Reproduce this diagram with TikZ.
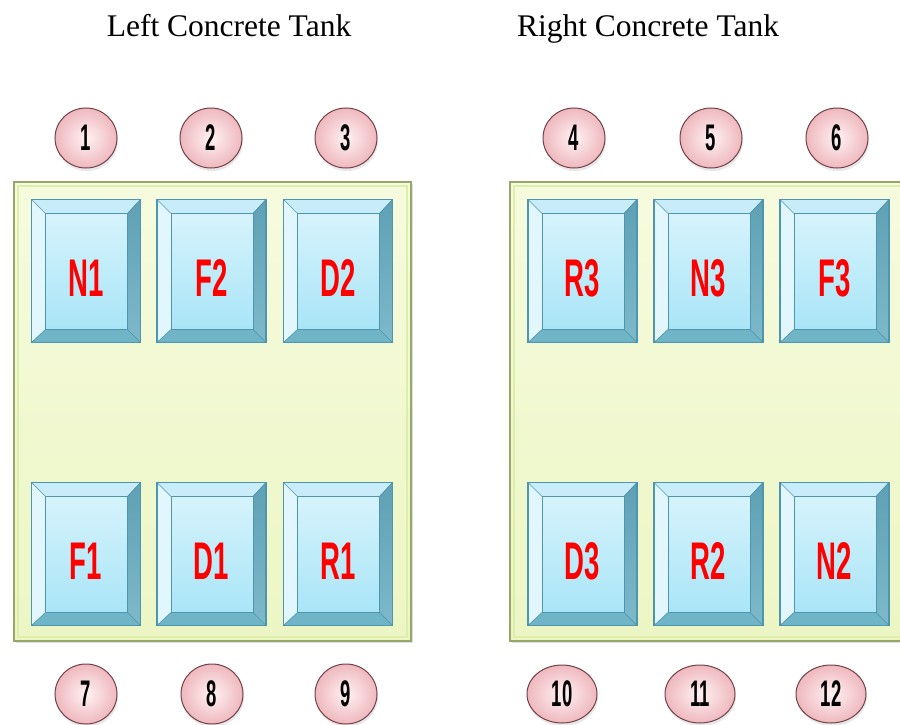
\documentclass[tikz,border=0pt]{standalone}
\usepackage{fontspec}
\setmainfont{Liberation Serif}
\newfontfamily\condfont[FakeStretch=0.52]{Liberation Sans Bold}
\newfontfamily\numfont[FakeStretch=0.5]{Liberation Sans Bold}
\usetikzlibrary{shapes.geometric,shadows,calc}
\definecolor{facetop}{RGB}{214,243,252}
\definecolor{facebot}{RGB}{169,229,247}
\definecolor{bevtopc}{RGB}{200,236,249}
\definecolor{bevleftc}{RGB}{226,247,253}
\definecolor{bevrightc}{RGB}{95,160,180}
\definecolor{bevrightd}{RGB}{125,185,202}
\definecolor{bevbotc}{RGB}{112,180,200}
\definecolor{boxline}{RGB}{78,150,175}
\definecolor{tankfill}{RGB}{236,246,196}
\definecolor{tanktop}{RGB}{246,251,222}
\definecolor{tankline}{RGB}{150,168,105}
\definecolor{tankrim}{RGB}{222,238,168}
\definecolor{ballin}{RGB}{255,242,243}
\definecolor{ballout}{RGB}{238,184,190}
\definecolor{ballline}{RGB}{115,65,72}
\definecolor{lblred}{RGB}{255,0,0}
\tikzset{
  boxnode/.style={rectangle, minimum width=109pt, minimum height=143pt, inner sep=0pt, outer sep=0pt},
  tank/.style={rectangle, inner sep=0pt, outer sep=0pt, draw=tankline, line width=1.3pt,
    top color=tanktop, bottom color=tankfill,
    drop shadow={opacity=0.25, shadow xshift=2pt, shadow yshift=-2pt}},
  lbl/.style={font=\condfont\fontsize{53}{53}\selectfont, text=lblred},
  ballnode/.style={ellipse, minimum width=62pt, minimum height=60pt, inner sep=0pt,
    draw=ballline, line width=1pt, inner color=ballin, outer color=ballout,
    drop shadow={opacity=0.18, shadow xshift=1pt, shadow yshift=-3pt},
    font=\numfont\fontsize{37}{37}\selectfont},
  wideball/.style={ballnode, minimum width=70pt, minimum height=58pt},
  title/.style={font=\fontsize{31.5}{32}\selectfont, anchor=base}
}
\newcommand{\bevbox}[4]{%
  \node[boxnode] (#1) at (#2,#3) {};
  \coordinate (#1a) at ([shift={(14,14)}]#1.north west);
  \coordinate (#1b) at ([shift={(-13,14)}]#1.north east);
  \coordinate (#1c) at ([shift={(-13,-13)}]#1.south east);
  \coordinate (#1d) at ([shift={(14,-13)}]#1.south west);
  \fill[top color=facetop, bottom color=facebot] (#1a) rectangle (#1c);
  \fill[bevtopc] (#1.north west) -- (#1.north east) -- (#1b) -- (#1a) -- cycle;
  \fill[bevleftc] (#1.north west) -- (#1a) -- (#1d) -- (#1.south west) -- cycle;
  \fill[top color=bevrightc, bottom color=bevrightd] (#1.north east) -- (#1.south east) -- (#1c) -- (#1b) -- cycle;
  \fill[bevbotc] (#1.south west) -- (#1d) -- (#1c) -- (#1.south east) -- cycle;
  \draw[boxline, line width=0.6pt] (#1.north west) -- (#1a) (#1.north east) -- (#1b)
     (#1.south east) -- (#1c) (#1.south west) -- (#1d);
  \draw[boxline, line width=0.6pt] (#1a) rectangle (#1c);
  \draw[boxline, line width=1.2pt] (#1.north west) rectangle (#1.south east);
  \node[lbl] (#1t) at ([yshift=-7pt]#1.center) {#4};
}
\begin{document}
\begin{tikzpicture}[x=1pt,y=-1pt]
\useasboundingbox (0,0) rectangle (900,725);
% titles
\node[title] (tl) at (229,37) {Left Concrete Tank};
\node[title] (tr) at (648,37) {Right Concrete Tank};
% tanks
\node[tank, minimum width=397pt, minimum height=459pt] (lt) at (212.5,411.5) {};
\node[tank, minimum width=396pt, minimum height=459pt] (rt) at (708,411.5) {};
\draw[tankrim, line width=2pt] ([shift={(4,4)}]lt.north west) rectangle ([shift={(-4,-4)}]lt.south east);
\draw[tankrim, line width=2pt] ([shift={(4,4)}]rt.north west) rectangle ([shift={(-4,-4)}]rt.south east);
% boxes
\bevbox{n1}{86}{271}{N1}
\bevbox{f2}{211.5}{271}{F2}
\bevbox{d2}{338}{271}{D2}
\bevbox{f1}{86}{554}{F1}
\bevbox{d1}{211.5}{554}{D1}
\bevbox{r1}{338}{554}{R1}
\bevbox{r3}{582.5}{271}{R3}
\bevbox{n3}{708.5}{271}{N3}
\bevbox{f3}{834.5}{271}{F3}
\bevbox{d3}{582.5}{554}{D3}
\bevbox{r2}{708.5}{554}{R2}
\bevbox{n2}{834.5}{554}{N2}
% balls
\node[ballnode] (c1) at (86,138) {1};
\node[ballnode] (c2) at (211,138) {2};
\node[ballnode] (c3) at (346,138) {3};
\node[ballnode] (c4) at (574,138) {4};
\node[ballnode] (c5) at (711,138) {5};
\node[ballnode] (c6) at (837,138) {6};
\node[ballnode] (c7) at (86,694) {7};
\node[ballnode] (c8) at (212,694) {8};
\node[ballnode] (c9) at (346,694) {9};
\node[wideball] (c10) at (562,694) {10};
\node[wideball] (c11) at (700,694) {11};
\node[wideball] (c12) at (831,694) {12};
\end{tikzpicture}
\end{document}
